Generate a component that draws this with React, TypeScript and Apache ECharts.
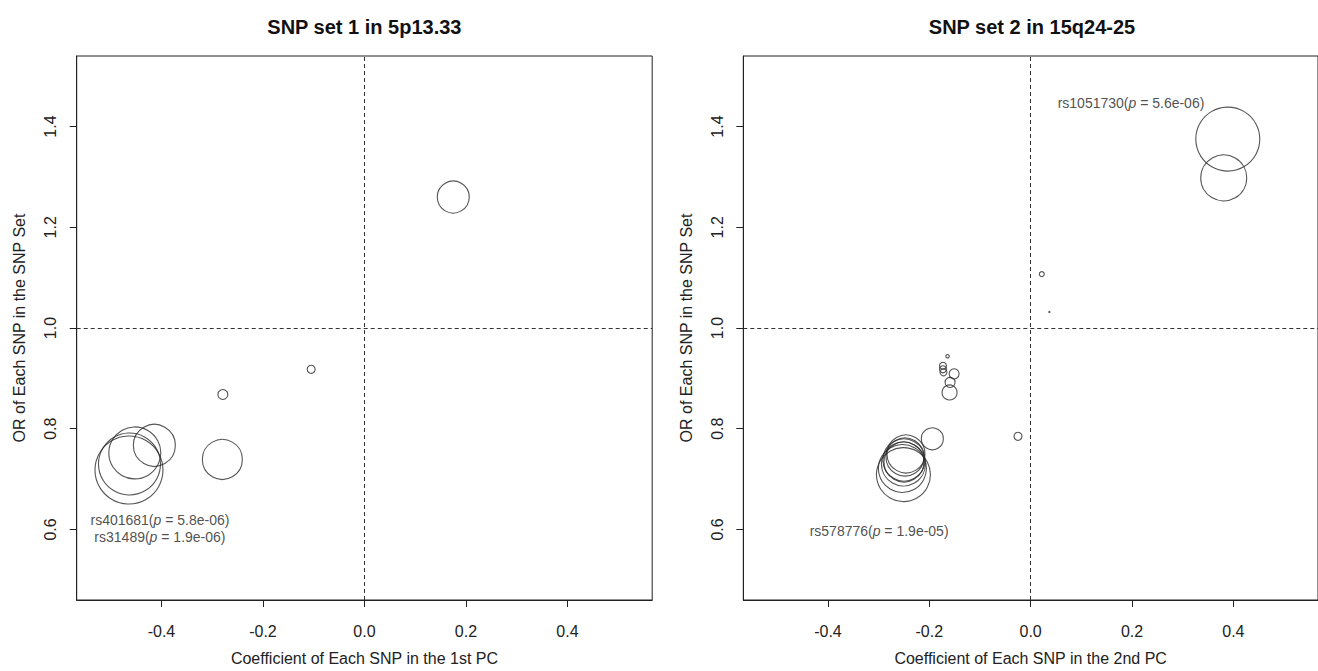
import React, { useEffect, useRef } from "react";
import * as echarts from "echarts";

// ---- data ----
const xTicks = [-0.4, -0.2, 0.0, 0.2, 0.4];
const yTicks = [0.6, 0.8, 1.0, 1.2, 1.4];

const titles = ["SNP set 1 in 5p13.33", "SNP set 2 in 15q24-25"];
const xNames = ["Coefficient of Each SNP in the 1st PC", "Coefficient of Each SNP in the 2nd PC"];
const yName = "OR of Each SNP in the SNP Set";

// SNP set 1: coefficient, OR, circle size
const set1Coef = [-0.464, -0.463, -0.4525, -0.414, -0.28, -0.279, -0.105, 0.175];
const set1OR = [0.718, 0.73, 0.752, 0.767, 0.739, 0.868, 0.918, 1.26];
const set1Size = [34, 31, 26, 21, 20, 5, 4, 16];

// SNP set 2
const set2Coef = [0.389, 0.381, 0.022, 0.037, -0.164, -0.173, -0.173, -0.172, -0.151, -0.159, -0.16, -0.194,
  -0.251, -0.253, -0.251, -0.25, -0.248, -0.246, -0.25, -0.025];
const set2OR = [1.375, 1.298, 1.107, 1.032, 0.944, 0.925, 0.918, 0.912, 0.909, 0.892, 0.872, 0.78,
  0.709, 0.721, 0.73, 0.738, 0.744, 0.75, 0.734, 0.785];
const set2Size = [32, 23, 2.5, 0.6, 1.7, 3.5, 3.5, 3.5, 5, 5, 7.5, 11, 27, 24, 22, 21, 19, 19, 20, 4];

// annotated SNPs
const set1LabelSnp = ["rs401681", "rs31489"];
const set1LabelP = ["5.8e-06", "1.9e-06"];
const set1LabelX = [-0.403, -0.403];
const set1LabelY = [0.619, 0.585];

const set2LabelSnp = ["rs578776", "rs1051730"];
const set2LabelP = ["1.9e-05", "5.6e-06"];
const set2LabelX = [-0.299, 0.198];
const set2LabelY = [0.597, 1.447];

const X_MIN = -0.567, X_MAX = 0.567, Y_MIN = 0.46, Y_MAX = 1.54;

const FONT = "'Liberation Sans', Arial, Helvetica, sans-serif";
const INK = "#222";

function buildOption() {
  const grids = [
    { left: 76.7, top: 56, width: 575.5, height: 548 },
    { left: 743.3, top: 56, width: 577.4, height: 548 },
  ].map((g) => ({ ...g, show: true, borderColor: INK, borderWidth: 1, backgroundColor: "transparent", containLabel: false }));

  const xAxes = [0, 1].map((i) => ({
    type: "value",
    gridIndex: i,
    min: X_MIN,
    max: X_MAX,
    name: xNames[i],
    nameLocation: "middle",
    nameGap: 50,
    nameTextStyle: { fontFamily: FONT, fontSize: 16, color: INK },
    axisLine: { show: true, onZero: false, lineStyle: { color: INK, width: 1 } },
    splitLine: { show: false },
    axisTick: { show: true, inside: false, length: 7, customValues: xTicks, lineStyle: { color: INK, width: 1 } },
    axisLabel: {
      customValues: xTicks,
      margin: 23,
      fontFamily: FONT,
      fontSize: 16,
      color: INK,
      formatter: (v: number) => v.toFixed(1),
    },
  }));

  const yAxes = [0, 1].map((i) => ({
    type: "value",
    gridIndex: i,
    min: Y_MIN,
    max: Y_MAX,
    name: yName,
    nameLocation: "middle",
    nameGap: 49,
    nameTextStyle: { fontFamily: FONT, fontSize: 16, color: INK },
    axisLine: { show: true, onZero: false, lineStyle: { color: INK, width: 1 } },
    splitLine: { show: false },
    axisTick: { show: true, inside: false, length: 7, customValues: yTicks, lineStyle: { color: INK, width: 1 } },
    axisLabel: {
      customValues: yTicks,
      rotate: 90,
      margin: 18,
      fontFamily: FONT,
      fontSize: 16,
      color: INK,
      formatter: (v: number) => v.toFixed(1),
    },
  }));

  const circleSeries = (i: number, xs: number[], ys: number[], ss: number[]) => ({
    type: "scatter",
    xAxisIndex: i,
    yAxisIndex: i,
    data: xs.map((x, k) => [x, ys[k], ss[k]]),
    symbol: "circle",
    symbolSize: (v: number[]) => Math.max(1, v[2] * 2),
    itemStyle: { color: "rgba(0,0,0,0)", borderColor: "#2a2a2a", borderWidth: 1.1 },
    silent: true,
    markLine: {
      silent: true,
      symbol: "none",
      label: { show: false },
      lineStyle: { color: "#333", type: [4, 3], width: 1 },
      data: [{ xAxis: 0 }, { yAxis: 1 }],
    },
    z: 3,
  });

  const labelSeries = (i: number, snps: string[], ps: string[], xs: number[], ys: number[]) => ({
    type: "scatter",
    xAxisIndex: i,
    yAxisIndex: i,
    symbol: "circle",
    symbolSize: 0,
    silent: true,
    data: snps.map((s, k) => ({ value: [xs[k], ys[k]], name: s, p: ps[k] })),
    label: {
      show: true,
      position: "inside",
      fontFamily: FONT,
      fontSize: 14,
      color: INK,
      formatter: (params: any) => `{n|${params.name}(}{i|p}{n| = ${params.data.p})}`,
      rich: {
        n: { fontFamily: FONT, fontSize: 14, color: INK },
        i: { fontFamily: FONT, fontSize: 14, fontStyle: "italic", color: INK },
      },
    },
    z: 4,
  });

  return {
    animation: false,
    backgroundColor: "#fff",
    title: [0, 1].map((i) => ({
      text: titles[i],
      left: i === 0 ? 364.4 : 1032,
      top: 17,
      padding: 0,
      textAlign: "center",
      textStyle: { fontFamily: FONT, fontSize: 20, fontWeight: "bold", color: "#111" },
    })),
    grid: grids,
    xAxis: xAxes,
    yAxis: yAxes,
    series: [
      circleSeries(0, set1Coef, set1OR, set1Size),
      circleSeries(1, set2Coef, set2OR, set2Size),
      labelSeries(0, set1LabelSnp, set1LabelP, set1LabelX, set1LabelY),
      labelSeries(1, set2LabelSnp, set2LabelP, set2LabelX, set2LabelY),
    ],
  };
}

export default function App() {
  const ref = useRef<HTMLDivElement>(null);
  useEffect(() => {
    if (!ref.current) return;
    const chart = echarts.init(ref.current, null, { renderer: "svg" });
    chart.setOption(buildOption() as any);
    return () => chart.dispose();
  }, []);
  return (
    <div
      ref={ref}
      style={{ position: "fixed", left: 0, top: 0, width: 1318, height: 671, background: "#fff" }}
    />
  );
}
